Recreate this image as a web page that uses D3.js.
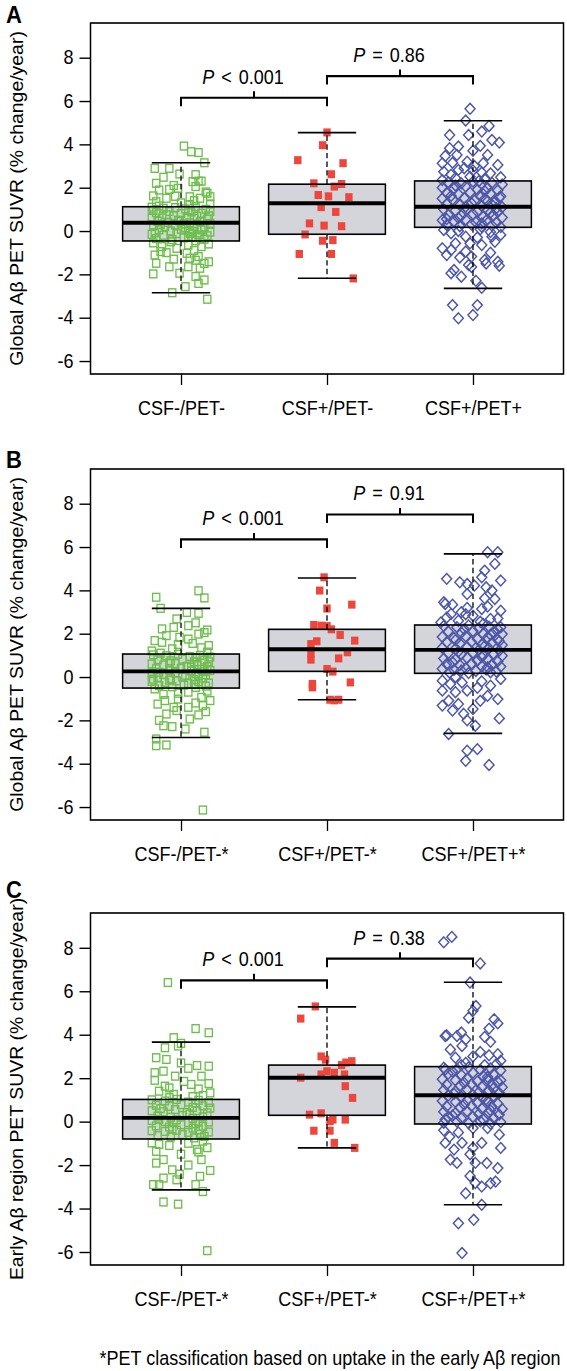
<!DOCTYPE html>
<html><head><meta charset="utf-8">
<script src="https://cdn.jsdelivr.net/npm/d3@7"></script>
<style>
body{margin:0;background:#fff}
text{font-family:"Liberation Sans",Arial,Helvetica,sans-serif;fill:#000}
</style></head>
<body>
<svg id="chart" width="567" height="1371"></svg>
<script>
// ---------------- data ----------------
const categoriesA = ["CSF-/PET-", "CSF+/PET-", "CSF+/PET+"];
const categoriesBC = ["CSF-/PET-*", "CSF+/PET-*", "CSF+/PET+*"];
const yTicks = [-6, -4, -2, 0, 2, 4, 6, 8];
const panelLabels = ["A", "B", "C"];
const yTitles = ["Global A\u03B2 PET SUVR (% change/year)", "Global A\u03B2 PET SUVR (% change/year)", "Early A\u03B2 region PET SUVR (% change/year)"];
const footnote = "*PET classification based on uptake in the early A\u03B2 region";

// box stats: [lower whisker, Q1, median, Q3, upper whisker]
const boxA = [[-2.85, -0.46, 0.38, 1.12, 3.15], [-2.18, -0.15, 1.28, 2.16, 4.54], [-2.65, 0.17, 1.12, 2.31, 5.09]];
const boxB = [[-2.79, -0.51, 0.26, 1.06, 3.17], [-1.05, 0.26, 1.28, 2.20, 4.57], [-2.60, 0.17, 1.25, 2.40, 5.68]];
const boxC = [[-3.14, -0.80, 0.17, 1.02, 3.66], [-1.21, 0.29, 2.02, 2.60, 5.28], [-3.83, -0.11, 1.21, 2.53, 6.41]];

// p-value comparisons: bracket height (data units) and text
const bracketA = [6.15, 7.15];
const bracketB = [6.35, 7.5];
const bracketC = [6.5, 7.5];
const pOpA = ["<", "="], pValA = ["0.001", "0.86"];
const pOpB = ["<", "="], pValB = ["0.001", "0.91"];
const pOpC = ["<", "="], pValC = ["0.001", "0.38"];

// points: [value (% change/year), horizontal jitter (category units)]
const ptsA1 = [[3.92,0.02],[3.66,0.07],[3.62,0.12],[3.15,0.16],[2.89,-0.18],[2.89,-0.08],[2.63,-0.01],[2.48,-0.12],[2.28,0.08],[2.3,0.12],[2.3,0.14],[1.89,-0.15],[1.92,-0.08],[1.97,-0.02],[1.74,0.18],[1.62,-0.19],[1.51,-0.1],[1.58,0.06],[1.51,0.13],[1.58,0.2],[2.05,0.1],[1.8,0.17],[1.35,-0.17],[1.3,0.0],[1.4,0.09],[1.25,0.2],
[1.1,-0.2],[1.05,-0.12],[1.08,-0.04],[1.02,0.03],[1.12,0.1],[1.0,0.17],[0.85,-0.17],[0.9,-0.08],[0.8,0.0],[0.88,0.07],[0.82,0.14],[0.9,0.2],[0.65,-0.2],[0.6,-0.13],[0.7,-0.05],[0.62,0.04],[0.68,0.11],[0.55,0.18],[0.45,-0.16],[0.4,-0.09],[0.48,-0.01],[0.38,0.06],[0.42,0.13],[0.35,0.2],[0.25,-0.19],[0.2,-0.11],[0.28,-0.04],[0.15,0.03],[0.22,0.09],[0.18,0.16],[0.05,-0.15],[0.0,-0.07],[0.08,0.0],[-0.02,0.08],[0.05,0.14],[-0.05,0.2],[-0.15,-0.2],[-0.2,-0.12],[-0.12,-0.03],[-0.25,0.05],[-0.18,0.12],[-0.22,0.18],[-0.35,-0.17],[-0.4,-0.06],[-0.32,0.02],[-0.45,0.1],[-0.38,0.16],
[1.15,-0.15],[0.95,0.05],[0.75,-0.1],[0.58,0.09],[0.3,-0.14],[0.12,0.11],[-0.08,-0.18],[-0.3,0.08],[0.5,-0.02],[0.95,-0.19],[0.7,0.19],[0.33,0.02],[-0.1,0.06],[1.2,0.06],[1.6,-0.04],[2.1,-0.05],[2.6,0.1],[2.2,-0.17],
[-0.6,0.19],[-0.72,-0.13],[-0.8,-0.03],[-0.72,0.14],[-0.55,-0.19],[-0.65,0.05],[-0.95,-0.14],[-1.11,-0.18],[-1.03,0.04],[-1.18,0.12],[-1.26,0.06],[-1.42,0.19],[-1.49,-0.17],[-1.65,-0.08],[-1.65,0.05],[-1.72,0.13],[-1.3,-0.05],[-1.98,-0.19],[-1.95,-0.01],[-2.1,0.1],[-2.26,0.16],[-2.42,0.12],[-2.57,0.03],[-2.85,-0.06],[-3.15,0.18],[-0.9,0.09],[-1.5,0.16],[-1.0,-0.1],[-1.35,0.1],[-0.5,-0.07]];
const ptsA2 = [[4.55,0.0],[3.96,-0.03],[3.27,-0.2],[3.13,0.11],[2.62,0.03],[2.2,-0.09],[2.17,0.1],[2.05,0.05],[1.66,-0.06],[1.6,0.01],[1.56,0.15],[1.1,-0.04],[0.88,0.06],[0.35,-0.12],[0.25,-0.02],[0.22,0.1],[-0.16,-0.15],[-0.45,-0.03],[-0.42,0.04],[-1.06,-0.19],[-1.06,0.03],[-2.19,0.18]];
const ptsA3 = [[5.64,-0.02],[5.1,-0.05],[4.85,0.11],[4.59,0.06],[4.43,-0.16],[4.43,-0.03],[4.08,0.18],[3.82,-0.16],[3.9,-0.1],[3.93,0.05],[3.46,-0.19],[3.51,-0.11],[3.51,0.1],[3.13,-0.21],[3.15,-0.14],[3.2,-0.04],[3.13,0.07],[3.05,0.17],[2.74,-0.2],[2.82,-0.1],[2.8,0.0],[2.66,0.12],[2.45,-0.12],[2.5,-0.02],[2.4,0.08],[2.48,0.19],[2.35,-0.21],[3.0,0.01],[2.9,-0.06],[4.2,0.13],[3.7,0.0],
[2.25,-0.17],[2.2,-0.08],[2.28,0.0],[2.18,0.06],[2.22,0.13],[2.15,0.2],[2.0,-0.21],[1.95,-0.13],[2.05,-0.05],[1.9,0.03],[1.98,0.1],[1.88,0.17],[1.75,-0.18],[1.7,-0.1],[1.78,-0.02],[1.65,0.05],[1.72,0.12],[1.6,0.19],[1.5,-0.21],[1.45,-0.14],[1.52,-0.06],[1.4,0.01],[1.48,0.08],[1.35,0.15],[1.25,-0.18],[1.2,-0.09],[1.28,-0.01],[1.15,0.06],[1.22,0.13],[1.1,0.2],[1.0,-0.2],[0.95,-0.12],[1.02,-0.04],[0.9,0.03],[0.98,0.1],[0.88,0.17],[0.75,-0.17],[0.7,-0.08],[0.78,0.0],[0.65,0.07],[0.72,0.14],[0.62,0.2],[0.5,-0.21],[0.45,-0.13],[0.52,-0.05],[0.4,0.02],[0.48,0.09],[0.38,0.16],[0.28,-0.18],[0.22,-0.09],[0.3,-0.01],[0.2,0.06],[0.25,0.13],[0.18,0.19],
[2.1,-0.12],[1.85,0.08],[1.62,-0.15],[1.38,0.1],[1.12,-0.05],[0.85,0.12],[0.6,-0.1],[0.35,0.06],[2.3,0.04],[1.55,0.18],[1.05,0.16],[0.55,-0.18],[2.6,-0.15],[2.7,0.06],
[0.05,-0.2],[0.0,-0.1],[0.08,0.05],[-0.05,0.12],[-0.1,-0.15],[-0.26,-0.05],[-0.26,0.13],[-0.18,0.19],[-0.3,0.03],[-0.57,-0.12],[-0.57,-0.02],[-0.65,0.06],[-0.8,-0.21],[-0.88,-0.15],[-0.5,0.15],[-1.11,-0.18],[-1.22,-0.09],[-1.18,-0.01],[-1.34,0.08],[-1.42,0.17],[-1.8,-0.13],[-1.57,-0.03],[-1.5,0.09],[-1.6,0.18],[-1.95,-0.15],[-2.11,-0.08],[-1.66,-0.01],[-2.62,0.06],[-3.42,-0.14],[-3.42,0.03],[-4.03,-0.1],[-3.88,0.0],[-1.0,0.12],[-0.95,-0.05],[-2.3,0.02]];

const ptsB1 = [[3.68,-0.17],[3.17,-0.14],[3.98,0.12],[3.65,0.16],[2.98,0.04],[2.94,0.12],[2.68,-0.03],[2.22,-0.13],[2.29,-0.05],[2.37,0.05],[2.17,0.18],[1.91,-0.1],[1.83,-0.01],[1.98,0.12],[1.68,-0.18],[1.45,0.19],[1.6,-0.13],[1.55,0.08],[2.5,0.1],[1.3,-0.06],[1.35,0.14],[2.05,0.16],[1.2,-0.2],
[1.02,-0.19],[0.98,-0.1],[1.05,-0.02],[0.95,0.06],[1.0,0.13],[0.92,0.2],[0.8,-0.16],[0.75,-0.07],[0.82,0.01],[0.7,0.09],[0.78,0.16],[0.6,-0.2],[0.55,-0.12],[0.62,-0.04],[0.5,0.04],[0.58,0.11],[0.48,0.18],[0.38,-0.17],[0.32,-0.08],[0.4,0.0],[0.28,0.07],[0.35,0.14],[0.3,0.2],[0.18,-0.2],[0.12,-0.12],[0.2,-0.04],[0.08,0.03],[0.15,0.1],[0.1,0.17],[-0.02,-0.16],[-0.08,-0.07],[0.0,0.01],[-0.12,0.09],[-0.05,0.15],[-0.2,-0.2],[-0.25,-0.11],[-0.18,-0.03],[-0.3,0.05],[-0.22,0.12],[-0.28,0.19],[-0.4,-0.15],[-0.45,-0.06],[-0.38,0.02],[-0.48,0.1],[-0.42,0.17],
[1.1,-0.14],[0.88,0.1],[0.65,-0.08],[0.45,0.07],[0.22,-0.15],[0.05,0.12],[-0.15,-0.08],[-0.35,0.09],[0.7,0.19],[0.25,0.16],[-0.1,-0.19],[1.5,-0.02],[1.75,0.05],[1.15,0.18],
[-0.55,-0.18],[-0.7,0.05],[-1.09,-0.11],[-1.02,-0.02],[-0.94,0.14],[-1.09,0.2],[-1.25,-0.16],[-1.4,-0.05],[-1.4,0.05],[-1.32,0.15],[-1.71,-0.1],[-1.55,-0.03],[-1.94,0.06],[-2.25,-0.12],[-2.29,-0.06],[-2.4,0.03],[-2.55,0.16],[-2.86,-0.17],[-3.17,-0.17],[-3.14,-0.1],[-6.14,0.15],[-0.8,-0.12],[-0.65,0.18],[-1.2,0.1],[-1.75,0.12],[-2.0,-0.15],[-0.75,-0.02],[-1.6,0.17]];
const ptsB2 = [[4.6,-0.02],[3.99,-0.05],[3.34,0.17],[3.16,0.0],[2.4,-0.09],[2.37,-0.04],[2.35,0.0],[2.2,0.03],[1.94,0.09],[1.65,-0.07],[1.52,-0.11],[1.68,0.19],[1.14,0.14],[1.1,-0.11],[0.8,-0.11],[0.86,0.08],[0.37,0.0],[0.25,0.04],[-0.32,-0.1],[-0.48,-0.1],[-0.25,0.16],[-1.05,0.02],[-1.05,0.08],[-1.08,0.05]];
const ptsB3 = [[5.76,0.1],[5.76,0.17],[5.22,0.15],[4.91,0.08],[4.53,-0.18],[4.37,-0.09],[4.6,0.06],[4.45,0.19],[4.22,0.01],[4.14,0.09],[3.99,0.13],[3.83,-0.04],[3.63,0.08],[3.45,-0.2],[3.34,-0.14],[3.19,-0.04],[3.06,0.19],[3.14,0.06],[2.91,-0.15],[2.99,-0.08],[2.83,0.0],[2.68,0.12],[2.52,-0.22],[2.3,0.19],[4.29,-0.04],[3.37,-0.19],[2.9,-0.05],[2.6,-0.1],[2.55,0.05],[2.7,0.17],[3.6,0.15],
[2.35,-0.2],[2.3,-0.11],[2.38,-0.03],[2.25,0.04],[2.32,0.11],[2.2,0.17],[2.1,-0.17],[2.05,-0.08],[2.12,0.0],[2.0,0.07],[2.08,0.14],[1.98,0.2],[1.85,-0.21],[1.8,-0.13],[1.88,-0.05],[1.75,0.03],[1.82,0.1],[1.72,0.17],[1.6,-0.18],[1.55,-0.09],[1.62,-0.01],[1.5,0.06],[1.58,0.13],[1.48,0.2],[1.35,-0.21],[1.3,-0.12],[1.38,-0.04],[1.25,0.04],[1.32,0.11],[1.22,0.18],[1.1,-0.17],[1.05,-0.08],[1.12,0.0],[1.0,0.07],[1.08,0.14],[0.98,0.2],[0.85,-0.2],[0.8,-0.12],[0.88,-0.04],[0.75,0.03],[0.82,0.1],[0.72,0.17],[0.6,-0.18],[0.55,-0.09],[0.62,-0.01],[0.5,0.06],[0.58,0.13],[0.48,0.19],[0.38,-0.21],[0.32,-0.13],[0.4,-0.05],[0.28,0.02],[0.35,0.09],[0.25,0.16],[0.2,-0.16],[0.18,-0.03],[0.22,0.12],
[2.2,-0.06],[1.95,0.12],[1.7,-0.12],[1.42,0.08],[1.18,-0.1],[0.92,0.06],[0.68,-0.14],[0.45,0.1],[2.45,0.07],[1.65,0.18],[0.3,-0.08],[2.75,-0.18],[3.25,0.1],
[-0.17,-0.21],[-0.32,-0.155],[-0.25,-0.075],[-0.63,-0.21],[-0.7,-0.12],[-0.63,-0.04],[-1.09,-0.167],[-1.25,-0.1],[-1.32,-0.21],[-1.7,-0.064],[-1.55,-0.14],[-1.48,0.0],[-2.0,-0.04],[-2.25,0.016],[-2.63,-0.167],[-3.4,-0.04],[-3.33,0.03],[-4.06,0.11],[-3.87,-0.05],[-1.91,0.18],[-1.02,0.17],[-0.87,0.1],[-0.09,0.19],[-0.4,0.12],[-0.2,0.06],[0.0,-0.12],[-0.5,0.03],[-1.1,0.05]];

const ptsC1 = [[6.4,-0.09],[4.28,0.1],[4.09,0.19],[3.86,-0.05],[3.4,-0.11],[3.48,-0.02],[2.94,-0.17],[2.86,-0.1],[2.58,0.11],[2.55,0.19],[2.25,-0.18],[2.32,-0.12],[2.09,-0.04],[1.71,0.07],[1.75,0.19],[2.09,0.14],[1.63,-0.11],[1.32,0.2],[3.6,0.0],[2.7,0.0],[1.9,-0.18],[1.5,0.12],[1.4,-0.15],[1.25,-0.05],[2.45,0.05],[1.85,0.02],
[1.0,-0.2],[0.95,-0.11],[1.02,-0.03],[0.9,0.05],[0.98,0.12],[0.88,0.19],[0.75,-0.17],[0.7,-0.08],[0.78,0.0],[0.65,0.08],[0.72,0.15],[0.5,-0.2],[0.45,-0.12],[0.55,-0.04],[0.42,0.04],[0.5,0.11],[0.4,0.18],[0.25,-0.16],[0.2,-0.07],[0.28,0.01],[0.15,0.08],[0.22,0.15],[0.05,-0.2],[0.0,-0.11],[0.08,-0.03],[-0.05,0.05],[0.02,0.12],[-0.02,0.19],[-0.2,-0.17],[-0.25,-0.08],[-0.15,0.0],[-0.3,0.08],[-0.22,0.15],[-0.42,-0.2],[-0.45,-0.11],[-0.4,-0.03],[-0.5,0.05],[-0.38,0.12],[-0.48,0.19],[-0.65,-0.16],[-0.7,-0.07],[-0.6,0.01],[-0.75,0.09],[-0.68,0.16],
[1.1,-0.08],[0.85,0.1],[0.6,-0.14],[0.35,0.06],[0.1,-0.15],[-0.1,0.1],[-0.35,-0.06],[-0.58,0.13],[1.2,0.15],[0.62,0.2],[-0.05,-0.05],[1.55,-0.08],[1.15,0.08],
[-0.98,-0.2],[-1.37,-0.17],[-1.75,-0.12],[-1.29,0.11],[-1.75,0.14],[-1.91,-0.17],[-2.22,-0.06],[-2.42,-0.01],[-2.25,0.2],[-2.52,0.13],[-2.6,-0.12],[-2.9,-0.19],[-2.9,-0.15],[-2.9,0.1],[-2.68,-0.03],[-3.22,0.15],[-3.7,-0.12],[-3.8,-0.02],[-5.94,0.18],[-1.0,0.05],[-1.1,-0.08],[-1.2,0.18],[-1.5,0.0],[-0.9,0.15],[-2.0,0.05],[-1.05,-0.15],[-1.4,0.12]];
const ptsC2 = [[5.3,-0.08],[4.74,-0.18],[3.0,-0.04],[2.85,-0.01],[2.78,0.17],[2.72,0.13],[2.6,0.1],[2.32,0.0],[2.25,0.05],[2.17,-0.04],[2.17,0.12],[2.02,-0.18],[1.63,0.125],[1.09,0.175],[0.38,-0.04],[0.32,-0.12],[0.09,0.04],[0.09,0.125],[0.02,0.02],[-0.42,-0.09],[-0.42,0.02],[-0.98,0.05],[-1.21,0.19]];
const ptsC3 = [[8.25,-0.2],[8.5,-0.145],[7.28,0.05],[6.4,-0.02],[5.32,0.02],[5.1,0.0],[4.78,-0.03],[3.94,-0.19],[3.94,-0.11],[3.78,-0.05],[3.32,-0.155],[3.48,-0.075],[2.94,-0.12],[2.4,-0.19],[4.28,0.11],[4.71,0.145],[4.52,0.17],[3.9,0.08],[3.67,0.12],[3.2,0.05],[3.05,0.11],[3.1,0.17],[2.8,0.19],[2.65,0.16],[3.97,-0.18],[4.1,-0.08],[3.0,0.0],[2.7,-0.05],[2.6,0.08],
[2.48,-0.2],[2.42,-0.11],[2.5,-0.03],[2.38,0.05],[2.45,0.12],[2.35,0.19],[2.2,-0.17],[2.15,-0.08],[2.25,0.0],[2.1,0.07],[2.18,0.14],[1.95,-0.21],[1.9,-0.12],[1.98,-0.04],[1.85,0.03],[1.92,0.1],[1.82,0.17],[1.7,-0.18],[1.65,-0.09],[1.72,-0.01],[1.6,0.06],[1.68,0.13],[1.58,0.2],[1.45,-0.2],[1.4,-0.12],[1.48,-0.04],[1.35,0.04],[1.42,0.11],[1.32,0.18],[1.2,-0.17],[1.15,-0.08],[1.22,0.0],[1.1,0.07],[1.18,0.14],[0.95,-0.21],[0.9,-0.12],[0.98,-0.04],[0.85,0.03],[0.92,0.1],[0.82,0.17],[0.7,-0.18],[0.65,-0.09],[0.72,-0.01],[0.6,0.06],[0.68,0.13],[0.58,0.2],[0.45,-0.2],[0.4,-0.12],[0.48,-0.04],[0.35,0.04],[0.42,0.11],[0.32,0.18],[0.2,-0.17],[0.15,-0.08],[0.22,0.0],[0.1,0.07],[0.18,0.14],[-0.05,-0.2],[0.0,-0.11],[-0.08,-0.03],[0.02,0.05],[-0.1,0.12],[-0.02,0.19],
[2.3,-0.14],[2.05,0.1],[1.78,-0.06],[1.52,0.14],[1.28,-0.13],[1.02,0.09],[0.78,-0.06],[0.52,0.12],[0.28,-0.14],[2.6,-0.08],[1.9,0.19],[0.1,-0.19],
[-0.98,-0.19],[-1.29,-0.13],[-0.98,-0.075],[-1.75,-0.155],[-1.9,-0.11],[-1.9,0.016],[-3.3,-0.05],[-2.83,0.016],[-4.52,0.005],[-4.68,-0.1],[-6.05,-0.075],[-1.21,0.19],[-2.14,0.17],[-1.91,0.095],[-2.99,0.06],[-2.76,0.155],[-2.84,0.12],[-3.83,0.06],[-0.6,0.18],[-0.3,0.1],[-0.98,0.06],[-0.4,-0.2],[-0.5,-0.1],[-0.3,0.0],[-1.5,-0.02],[-2.5,-0.02],[-0.7,-0.16],[-1.2,0.0]];

// ---------------- layout ----------------
const SY = 1.08; // vertical stretch of the reference picture
const colors = ["#6cbf4a", "#ee463c", "#4b55aa"];
const boxFill = "#d4d5da";
const FS = 18;

const panels = [
  {label: panelLabels[0], labelY: 23, top: 23, bottom: 374, cats: categoriesA, title: yTitles[0], box: boxA, pts: [ptsA1, ptsA2, ptsA3], br: bracketA, op: pOpA, pv: pValA},
  {label: panelLabels[1], labelY: 468, top: 469, bottom: 820, cats: categoriesBC, title: yTitles[1], box: boxB, pts: [ptsB1, ptsB2, ptsB3], br: bracketB, op: pOpB, pv: pValB},
  {label: panelLabels[2], labelY: 898, top: 913, bottom: 1265, cats: categoriesBC, title: yTitles[2], box: boxC, pts: [ptsC1, ptsC2, ptsC3], br: bracketC, op: pOpC, pv: pValC}
];

const svg = d3.select("#chart");
const root = svg.append("g").attr("transform", `scale(1,${SY})`);
const u = p => p / SY; // page px -> unscaled units

const x = d3.scaleLinear().domain([0.38, 3.62]).range([90.5, 563.5]);
const BW = 0.4, CAP = 0.2;

panels.forEach(P => {
  const g = root.append("g");
  const y = d3.scaleLinear().domain([-6.6, 9.6]).range([u(P.bottom), u(P.top)]);

  // panel letter
  g.append("text").attr("x", 6).attr("y", u(P.labelY))
    .style("font-weight", "bold").style("font-size", "22px").text(P.label);

  // box fills
  P.box.forEach((b, i) => {
    g.append("rect").attr("x", x(i + 1 - BW)).attr("width", x(i + 1 + BW) - x(i + 1 - BW))
      .attr("y", y(b[3])).attr("height", y(b[1]) - y(b[3]))
      .attr("fill", boxFill);
  });

  // points
  P.pts.forEach((arr, i) => {
    const pg = g.append("g");
    arr.forEach(d => {
      const cx = x(i + 1 + d[1]), cy = y(d[0]);
      if (i === 0) {
        pg.append("rect").attr("x", cx - 3.6).attr("y", cy - 3.6).attr("width", 7.2).attr("height", 7.2)
          .attr("fill", "none").attr("stroke", colors[0]).attr("stroke-width", 1.3);
      } else if (i === 1) {
        pg.append("rect").attr("x", cx - 3.7).attr("y", cy - 3.7).attr("width", 7.4).attr("height", 7.4)
          .attr("fill", colors[1]);
      } else {
        const r = 5;
        pg.append("path").attr("d", `M${cx},${cy - r}L${cx + r},${cy}L${cx},${cy + r}L${cx - r},${cy}Z`)
          .attr("fill", "none").attr("stroke", colors[2]).attr("stroke-width", 1.4);
      }
    });
  });

  // box lines
  P.box.forEach((b, i) => {
    const c = i + 1;
    g.append("line").attr("x1", x(c)).attr("x2", x(c)).attr("y1", y(b[3])).attr("y2", y(b[4]))
      .attr("stroke", "#000").attr("stroke-width", 1.3).attr("stroke-dasharray", "5,3");
    g.append("line").attr("x1", x(c)).attr("x2", x(c)).attr("y1", y(b[1])).attr("y2", y(b[0]))
      .attr("stroke", "#000").attr("stroke-width", 1.3).attr("stroke-dasharray", "5,3");
    [b[0], b[4]].forEach(v => {
      g.append("line").attr("x1", x(c - CAP)).attr("x2", x(c + CAP)).attr("y1", y(v)).attr("y2", y(v))
        .attr("stroke", "#000").attr("stroke-width", 1.5);
    });
    g.append("rect").attr("x", x(c - BW)).attr("width", x(c + BW) - x(c - BW))
      .attr("y", y(b[3])).attr("height", y(b[1]) - y(b[3]))
      .attr("fill", "none").attr("stroke", "#000").attr("stroke-width", 1.5);
    g.append("line").attr("x1", x(c - BW)).attr("x2", x(c + BW)).attr("y1", y(b[2])).attr("y2", y(b[2]))
      .attr("stroke", "#000").attr("stroke-width", 3.6);
  });

  // frame
  g.append("rect").attr("x", x(0.38)).attr("y", u(P.top)).attr("width", x(3.62) - x(0.38))
    .attr("height", u(P.bottom) - u(P.top)).attr("fill", "none").attr("stroke", "#000").attr("stroke-width", 1.5);

  // y axis
  const ya = g.append("g").attr("transform", `translate(${x(0.38)},0)`)
    .call(d3.axisLeft(y).tickValues(yTicks).tickSize(11).tickPadding(6).tickFormat(d => String(d)));
  ya.select(".domain").remove();
  ya.selectAll("line").attr("stroke", "#000").attr("stroke-width", 1.3);
  ya.selectAll("text").style("font-size", FS + "px").attr("font-family", null);

  // x axis
  const xa = g.append("g").attr("transform", `translate(0,${u(P.bottom)})`)
    .call(d3.axisBottom(x).tickValues([1, 2, 3]).tickSize(u(11)).tickFormat((d, i) => P.cats[i]));
  xa.select(".domain").remove();
  xa.selectAll("line").attr("stroke", "#000").attr("stroke-width", 1.3);
  xa.selectAll("text").style("font-size", FS + "px").attr("font-family", null)
    .attr("y", u(41)).attr("dy", null);

  // y title
  g.append("text").attr("transform", `translate(23,${u((P.top + P.bottom) / 2)}) rotate(-90)`)
    .attr("text-anchor", "middle").style("font-size", FS + "px").text(P.title);

  // brackets
  P.br.forEach((bv, k) => {
    const x1 = x(k + 1), x2 = x(k + 2), xm = (x1 + x2) / 2;
    const yb = y(bv), yd = yb + u(8.5), yt = yb - u(6.5);
    g.append("path").attr("d", `M${x1},${yd}V${yb}H${x2}V${yd}M${xm},${yb}V${yt}`)
      .attr("fill", "none").attr("stroke", "#000").attr("stroke-width", 2);
    const t = g.append("text").attr("x", xm - 11).attr("y", yt - u(7.5))
      .attr("text-anchor", "middle").style("font-size", FS + "px");
    t.append("tspan").style("font-style", "italic").text("P");
    t.append("tspan").attr("dx", 7).text(P.op[k]);
    t.append("tspan").attr("dx", 7).text(P.pv[k]);
  });
});

// footnote
root.append("text").attr("x", 330).attr("y", u(1365)).attr("text-anchor", "middle")
  .style("font-size", "18px").text(footnote);
</script>
</body></html>
